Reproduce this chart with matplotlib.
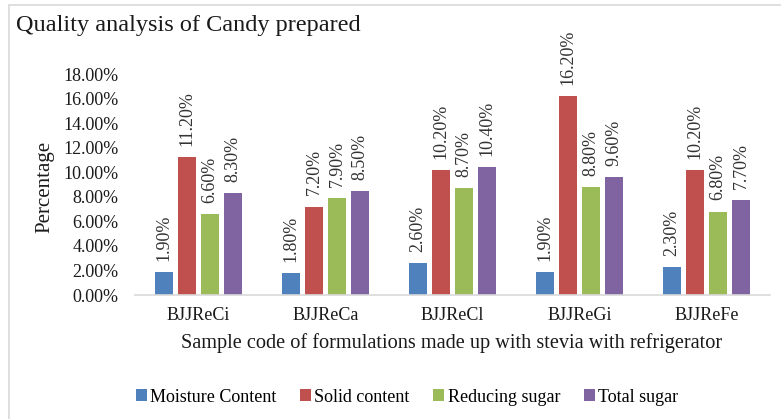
import matplotlib.pyplot as plt
import numpy as np
from matplotlib.patches import Rectangle
from matplotlib.ticker import PercentFormatter

plt.rcParams['font.family'] = ['Liberation Serif', 'DejaVu Serif']

samples = ['BJJReCi', 'BJJReCa', 'BJJReCl', 'BJJReGi', 'BJJReFe']
series = ['Moisture Content', 'Solid content', 'Reducing sugar', 'Total sugar']
moisture = [1.9, 1.8, 2.6, 1.9, 2.3]
solid = [11.2, 7.2, 10.2, 16.2, 10.2]
reducing = [6.6, 7.9, 8.7, 8.8, 6.8]
total = [8.3, 8.5, 10.4, 9.6, 7.7]
colors = ['#4F81BD', '#C0504D', '#9BBB59', '#8064A2']

fig = plt.figure(figsize=(7.81, 4.19), dpi=100)
ax = fig.add_axes([135 / 781, 1 - 295 / 419, 635 / 781, 221 / 419])

# outer chart frame (cropped on right/bottom)
fig.patches.append(Rectangle((9 / 781, -0.1), 1.2, 1 - 5 / 419 + 0.1,
                             transform=fig.transFigure, fill=False,
                             edgecolor='#D9D9D9', linewidth=1.2))

x = np.arange(len(samples))
step = 0.181
width = 0.142
for i, (name, vals) in enumerate(zip(series, [moisture, solid, reducing, total])):
    pos = x + (i - 1.5) * step
    ax.bar(pos, vals, width, color=colors[i], label=name)
    for p, v in zip(pos, vals):
        ax.annotate(f'{v:.2f}%', (p, v), xytext=(0, 8), textcoords='offset points',
                    rotation=90, ha='center', va='bottom', fontsize=13,
                    color='#333333', annotation_clip=False)

ax.set_xlim(-0.5, len(samples) - 0.5)
ax.set_ylim(0, 18)
ax.set_yticks(np.arange(0, 19, 2))
ax.yaxis.set_major_formatter(PercentFormatter(decimals=2))
ax.set_xticks(x)
ax.set_xticklabels(samples)
ax.tick_params(axis='both', length=0, labelsize=13, colors='#1a1a1a')
ax.tick_params(axis='y', pad=12)
ax.tick_params(axis='x', pad=9)
for s in ['top', 'right', 'left']:
    ax.spines[s].set_visible(False)
ax.spines['bottom'].set_color('#D9D9D9')
ax.spines['bottom'].set_linewidth(1.2)

fig.text(16 / 781, 1 - 25 / 419, 'Quality analysis of Candy prepared',
         fontsize=17.5, va='center', ha='left', color='#1a1a1a')
fig.text(45 / 781, 1 - 187 / 419, 'Percentage', rotation=90, fontsize=15,
         ha='center', va='center', color='#1a1a1a')
fig.text(452 / 781, 1 - 343 / 419,
         'Sample code of formulations made up with stevia with refrigerator',
         fontsize=14.6, ha='center', va='center', color='#1a1a1a')

fig.legend(loc='center', bbox_to_anchor=(407 / 781, 1 - 397 / 419), ncol=4,
           frameon=False, fontsize=13, handlelength=0.6, handleheight=0.6,
           handletextpad=0.2, columnspacing=1.3)

fig.savefig('out.png', dpi=100)
